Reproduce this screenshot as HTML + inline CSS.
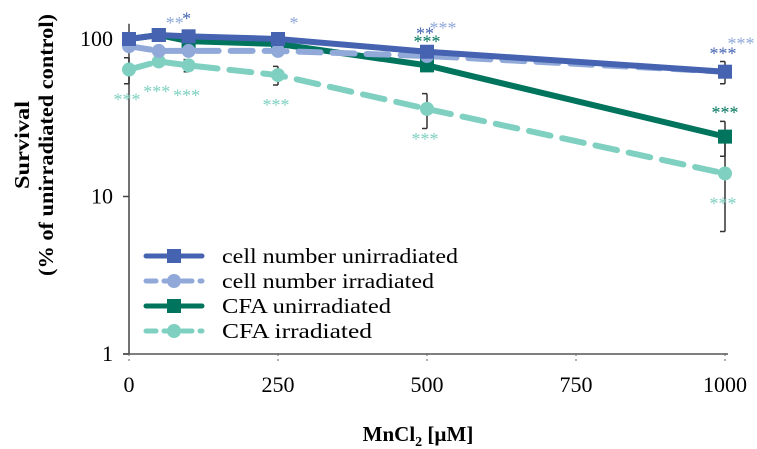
<!DOCTYPE html>
<html><head><meta charset="utf-8"><style>
body{margin:0;background:#fff}
svg{display:block;font-family:"Liberation Serif",serif}
</style></head><body>
<svg id="chart" width="757" height="449" viewBox="0 0 757 449" xmlns="http://www.w3.org/2000/svg">
<g id="axes"></g>
<g id="series"></g>
<g id="legend"></g>
<text transform="translate(29,145) rotate(-90)" text-anchor="middle" font-size="21" font-weight="bold" textLength="88" lengthAdjust="spacingAndGlyphs">Survival</text>
<text transform="translate(53,145) rotate(-90)" text-anchor="middle" font-size="21" font-weight="bold" textLength="262" lengthAdjust="spacingAndGlyphs">(% of unirradiated control)</text>
<text x="418" y="441" text-anchor="middle" font-size="21" font-weight="bold">MnCl<tspan font-size="14" dy="5">2</tspan><tspan dy="-5"> [µM]</tspan></text>
</svg>
<script>
const doses = [0, 50, 100, 250, 500, 1000];
const cellUnirr = [100, 106, 104, 100, 83, 62];
const cellIrr = [90, 84, 84, 84, 78, 62];
const cfaUnirr = [100, 106, 97, 93, 68, 24];
const cfaIrr = [64, 72, 68, 59, 36, 14];
const cellUnirrErr = [0, 0, 0, 0, 0, 10];
const cellIrrErr = [0, 0, 0, 0, 0, 0];
const cfaUnirrErr = [0, 0, 0, 0, 5, 6];
const cfaIrrErr = [12, 0, 6, 8, 9, 8];
const xTicks = [0, 250, 500, 750, 1000];
const yTicks = [1, 10, 100];
const sigCellUnirr = ["", "", "*", "", "**", "***"];
const sigCellIrr = ["", "**", "", "*", "***", "***"];
const sigCfaUnirr = ["", "", "", "", "***", "***"];
const sigCfaIrr = ["***", "***", "***", "***", "***", "***"];

const NS = "http://www.w3.org/2000/svg";
const X0 = 129, XS = 0.596;
const Y100 = 39, DEC = 157.5;
function xs(v){return X0 + v*XS;}
function ys(v){return Y100 - (Math.log10(v) - 2)*DEC;}
function mk(tag, attrs, parent){const e=document.createElementNS(NS,tag);for(const k in attrs)e.setAttribute(k,attrs[k]);parent.appendChild(e);return e;}

const axes = document.getElementById('axes');
let a = mk('line',{x1:X0,y1:ys(1),x2:X0,y2:ys(125),stroke:'#444','stroke-width':1.5},axes);


a = mk('line',{x1:X0-6,y1:ys(1),x2:xs(1000)+3,y2:ys(1),stroke:'#555','stroke-width':1.5},axes);


yTicks.forEach(t=>{
  const l = mk('line',{x1:X0-6,y1:ys(t),x2:X0,y2:ys(t),stroke:'#444','stroke-width':1.5},axes);
  
  
  const tx = mk('text',{x:X0-16,y:ys(t)+7,'text-anchor':'end','font-size':22},axes);
  tx.textContent = t;
  
  
});
xTicks.forEach(t=>{
  const l = mk('line',{x1:xs(t),y1:ys(1),x2:xs(t),y2:ys(1)+8,stroke:'#666','stroke-width':1,'stroke-dasharray':'2,3'},axes);
  
  
  const tx = mk('text',{x:xs(t),y:ys(1)+38,'text-anchor':'middle','font-size':22},axes);
  tx.textContent = t;
  
  
});

const S = [
 {name:'cell-number-unirradiated',label:'cell number unirradiated',vals:cellUnirr,err:cellUnirrErr,sig:sigCellUnirr,color:'#4563b0',dash:'',marker:'sq',sigDx:-2,sigDy:-12},
 {name:'cell-number-irradiated',label:'cell number irradiated',vals:cellIrr,err:cellIrrErr,sig:sigCellIrr,color:'#90a9d9',dash:'22,12',marker:'ci',sigDx:16,sigDy:-22},
 {name:'cfa-unirradiated',label:'CFA unirradiated',vals:cfaUnirr,err:cfaUnirrErr,sig:sigCfaUnirr,color:'#00745c',dash:'',marker:'sq',sigDx:0,sigDy:-18},
 {name:'cfa-irradiated',label:'CFA irradiated',vals:cfaIrr,err:cfaIrrErr,sig:sigCfaIrr,color:'#7fd0c0',dash:'22,12',marker:'ci',sigDx:-2,sigDy:36}
];
const sg = document.getElementById('series');
const order=[3,2,1,0];
order.forEach(i=>{
  const s=S[i];
  const g = mk('g',{},sg);
  
  
  s.err.forEach((e,j)=>{
    if(!e) return;
    const x=xs(doses[j]), yt=ys(s.vals[j]+e), yb=ys(Math.max(s.vals[j]-e,0.5));
    const eb = mk('path',{d:`M${x},${yt}V${yb}M${x-5},${yt}H${x}M${x-5},${yb}H${x}`,stroke:'#333','stroke-width':1.5,fill:'none'},g);
    
    
  });
  const pts = doses.map((d,j)=>xs(d)+','+ys(s.vals[j])).join(' ');
  const pl = mk('polyline',{points:pts,fill:'none',stroke:s.color,'stroke-width':6,'stroke-dasharray':s.dash,'stroke-linecap':s.dash?'round':'butt'},g);
  
  
  doses.forEach((d,j)=>{
    const x=xs(d), y=ys(s.vals[j]);
    let m;
    if(s.marker==='sq') m=mk('rect',{x:x-7,y:y-7,width:14,height:14,fill:s.color},g);
    else m=mk('circle',{cx:x,cy:y,r:7,fill:s.color},g);
    
    
    if(s.sig[j]){
      const t=mk('text',{x:x+s.sigDx,y:y+s.sigDy,'text-anchor':'middle','font-size':18,fill:s.color,'font-family':'"Liberation Serif",serif'},g);
      t.textContent=s.sig[j];
      
      
    }
  });
});

const lg = document.getElementById('legend');
const legendW=[236,212,169,150];
S.forEach((s,i)=>{
  const y = 256 + i*25;
  const g = mk('g',{},lg);
  
  
  const l = mk('line',{x1:146,y1:y,x2:202,y2:y,stroke:s.color,'stroke-width':5,'stroke-dasharray':s.dash?'10,8':'','stroke-linecap':'round'},g);
  
  
  let m;
  if(s.marker==='sq') m=mk('rect',{x:167,y:y-7,width:14,height:14,fill:s.color},g);
  else m=mk('circle',{cx:174,cy:y,r:7,fill:s.color},g);
  
  
  const t=mk('text',{x:222,y:y+7,'font-size':21,textLength:legendW[i],lengthAdjust:'spacingAndGlyphs'},g);
  t.textContent=s.label;
  
  
});
</script>
</body></html>
